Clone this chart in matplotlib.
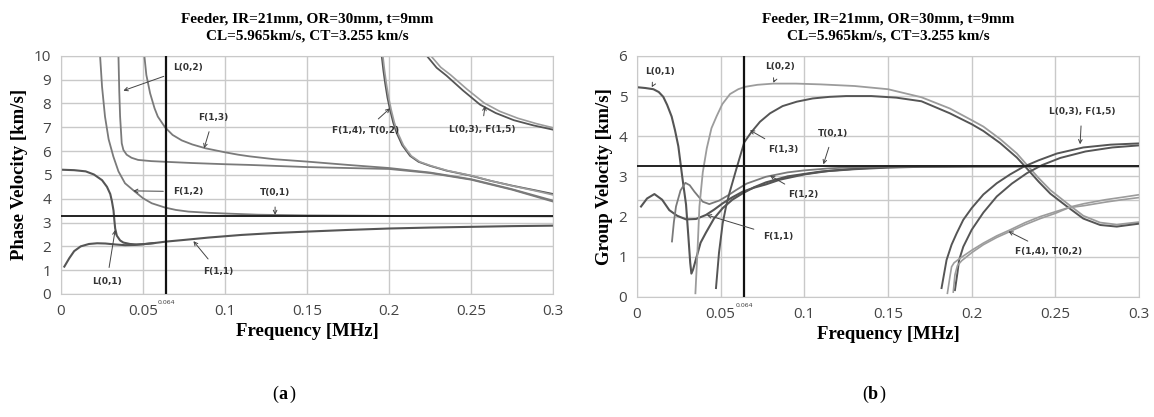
import matplotlib
matplotlib.use("Agg")
import matplotlib.pyplot as plt

# ---- common ----
CT = 3.255
f_mark = 0.064
title_txt = "Feeder, IR=21mm, OR=30mm, t=9mm\nCL=5.965km/s, CT=3.255 km/s"

# ---- (a) phase velocity ----
a_L01_x = [0.0, 0.008, 0.015, 0.02, 0.025, 0.028, 0.030, 0.031, 0.032, 0.0325, 0.033, 0.034, 0.036, 0.038, 0.042, 0.046, 0.05, 0.057]
a_L01_y = [5.22, 5.2, 5.15, 5.02, 4.78, 4.5, 4.2, 3.9, 3.5, 3.1, 2.75, 2.45, 2.25, 2.16, 2.1, 2.08, 2.09, 2.14]

a_F11_x = [0.002, 0.005, 0.008, 0.012, 0.017, 0.022, 0.027, 0.033, 0.039, 0.045, 0.05, 0.057, 0.064, 0.075, 0.09,
           0.11, 0.13, 0.15, 0.175, 0.2, 0.225, 0.25, 0.275, 0.3]
a_F11_y = [1.15, 1.5, 1.8, 2.0, 2.1, 2.13, 2.12, 2.08, 2.05, 2.06, 2.09, 2.14, 2.2, 2.27, 2.37,
           2.48, 2.56, 2.62, 2.69, 2.75, 2.79, 2.82, 2.85, 2.87]

a_F12_x = [0.0238, 0.025, 0.0268, 0.029, 0.0319, 0.035, 0.039, 0.045, 0.05, 0.0553, 0.0634, 0.07, 0.0776, 0.09,
           0.1, 0.12, 0.15, 0.2, 0.25, 0.3]
a_F12_y = [10, 8.7, 7.45, 6.5, 5.77, 5.15, 4.65, 4.3, 4.02, 3.81, 3.63, 3.53, 3.46, 3.41,
           3.38, 3.33, 3.3, 3.28, 3.27, 3.26]

a_L02_x = [0.035, 0.0355, 0.036, 0.037, 0.038, 0.040, 0.043, 0.047, 0.055, 0.064, 0.08, 0.1, 0.115, 0.15, 0.2,
           0.225, 0.25, 0.275, 0.3]
a_L02_y = [10, 8.5, 7.45, 6.33, 6.05, 5.85, 5.72, 5.63, 5.58, 5.55, 5.5, 5.45, 5.42, 5.33, 5.25,
           5.08, 4.8, 4.38, 3.88]

a_F13_x = [0.0508, 0.052, 0.0543, 0.057, 0.059, 0.0634, 0.068, 0.0736, 0.08, 0.088, 0.1, 0.108, 0.115, 0.13,
           0.15, 0.175, 0.2, 0.225, 0.25, 0.275, 0.3]
a_F13_y = [10, 9.2, 8.43, 7.8, 7.45, 7.0, 6.68, 6.45, 6.28, 6.12, 5.95, 5.85, 5.78, 5.66,
           5.56, 5.42, 5.29, 5.1, 4.82, 4.4, 3.92]

a_F14_x = [0.1955, 0.1965, 0.1976, 0.199, 0.2006, 0.2025, 0.2047, 0.208, 0.2128, 0.218, 0.225, 0.235, 0.249,
           0.262, 0.275, 0.288, 0.3]
a_F14_y = [10, 9.4, 8.85, 8.25, 7.73, 7.2, 6.75, 6.25, 5.8, 5.55, 5.38, 5.18, 4.98, 4.75, 4.55, 4.37, 4.2]
a_T02_x = [0.1962, 0.1972, 0.1983, 0.1997, 0.2013, 0.2032, 0.2054, 0.2087, 0.2135, 0.2187, 0.2257, 0.2357,
           0.2497, 0.2627, 0.2757, 0.2887, 0.3]
a_T02_y = [10, 9.4, 8.85, 8.25, 7.73, 7.2, 6.75, 6.25, 5.8, 5.55, 5.38, 5.18, 4.98, 4.74, 4.53, 4.34, 4.16]

a_L03_x = [0.223, 0.229, 0.235, 0.245, 0.2555, 0.265, 0.276, 0.288, 0.3]
a_L03_y = [10, 9.5, 9.17, 8.55, 7.95, 7.6, 7.3, 7.08, 6.9]
a_F15_x = [0.2255, 0.2315, 0.2375, 0.2475, 0.258, 0.2675, 0.2785, 0.29, 0.3]
a_F15_y = [10, 9.52, 9.2, 8.6, 8.02, 7.67, 7.38, 7.15, 6.98]

# ---- (b) group velocity ----
b_L01_x = [0.0, 0.005, 0.0098, 0.013, 0.0157, 0.018, 0.0207, 0.0227, 0.0247, 0.027, 0.0293, 0.0307, 0.0318,
           0.0325, 0.0335, 0.0353, 0.038, 0.0412, 0.046, 0.0512, 0.057, 0.0632, 0.07, 0.077, 0.09, 0.11,
           0.13, 0.15, 0.17, 0.2, 0.25, 0.3]
b_L01_y = [5.22, 5.2, 5.17, 5.1, 4.98, 4.78, 4.49, 4.15, 3.75, 3.0, 2.3, 1.5, 0.85,
           0.58, 0.68, 0.95, 1.35, 1.6, 1.95, 2.21, 2.42, 2.58, 2.73, 2.85, 3.0, 3.12,
           3.18, 3.22, 3.24, 3.25, 3.255, 3.255]

b_F11_x = [0.0024, 0.006, 0.0104, 0.015, 0.0193, 0.024, 0.0293, 0.0353, 0.0412, 0.046, 0.0512, 0.057, 0.0632,
           0.07, 0.077, 0.0855, 0.1, 0.115, 0.133, 0.15, 0.17, 0.2, 0.25, 0.3]
b_F11_y = [2.25, 2.45, 2.56, 2.42, 2.16, 2.02, 1.93, 1.94, 2.04, 2.17, 2.33, 2.48, 2.62,
           2.72, 2.8, 2.92, 3.05, 3.14, 3.2, 3.23, 3.245, 3.25, 3.255, 3.255]

b_F12_x = [0.0209, 0.022, 0.0233, 0.026, 0.0289, 0.0315, 0.0343, 0.0393, 0.0432, 0.0492, 0.0545, 0.0592,
           0.0655, 0.077, 0.0805, 0.09, 0.1, 0.115, 0.13, 0.15, 0.17, 0.2, 0.25, 0.3]
b_F12_y = [1.38, 1.85, 2.25, 2.65, 2.84, 2.78, 2.62, 2.37, 2.31, 2.40, 2.53, 2.66,
           2.82, 2.99, 3.02, 3.1, 3.15, 3.2, 3.23, 3.245, 3.25, 3.255, 3.255, 3.255]

b_L02_x = [0.0349, 0.0362, 0.0373, 0.0393, 0.0417, 0.0445, 0.0476, 0.051, 0.0556, 0.0605, 0.0646, 0.072,
           0.0815, 0.095, 0.11, 0.13, 0.15, 0.17, 0.187, 0.2, 0.207, 0.217, 0.227, 0.234, 0.24, 0.247,
           0.257, 0.2667, 0.2768, 0.2867, 0.2995]
b_L02_y = [0.09, 1.2, 2.25, 3.1, 3.7, 4.2, 4.5, 4.8, 5.05, 5.17, 5.23, 5.28,
           5.31, 5.31, 5.29, 5.25, 5.17, 4.97, 4.69, 4.4, 4.24, 3.93, 3.57, 3.24, 2.96, 2.66,
           2.33, 2.02, 1.85, 1.8, 1.86]

b_F13_x = [0.0472, 0.049, 0.0512, 0.0532, 0.0552, 0.0592, 0.0641, 0.0685, 0.0735, 0.0795, 0.087, 0.0955,
           0.105, 0.115, 0.125, 0.14, 0.155, 0.17, 0.187, 0.2, 0.207, 0.217, 0.227, 0.234, 0.24, 0.247,
           0.257, 0.2667, 0.2768, 0.2867, 0.2995]
b_F13_y = [0.22, 1.1, 1.83, 2.25, 2.58, 3.16, 3.85, 4.11, 4.36, 4.57, 4.75, 4.86,
           4.94, 4.98, 5.0, 5.0, 4.96, 4.87, 4.57, 4.3, 4.13, 3.83, 3.47, 3.15, 2.87, 2.57,
           2.25, 1.95, 1.79, 1.75, 1.82]

b_L03_x = [0.182, 0.185, 0.188, 0.191, 0.195, 0.2, 0.207, 0.215, 0.223, 0.231, 0.24, 0.251, 0.2667, 0.283, 0.2995]
b_L03_y = [0.22, 0.92, 1.3, 1.58, 1.92, 2.21, 2.55, 2.83, 3.05, 3.24, 3.4, 3.57, 3.72, 3.79, 3.82]
b_F15_x = [0.19, 0.1915, 0.1925, 0.195, 0.2, 0.207, 0.215, 0.224, 0.233, 0.242, 0.253, 0.268, 0.284, 0.2995]
b_F15_y = [0.17, 0.6, 0.92, 1.25, 1.67, 2.1, 2.5, 2.82, 3.08, 3.28, 3.46, 3.62, 3.72, 3.77]

b_F14_x = [0.1855, 0.187, 0.188, 0.1895, 0.193, 0.2, 0.207, 0.215, 0.223, 0.232, 0.241, 0.25, 0.26, 0.267,
           0.28, 0.29, 0.2995]
b_F14_y = [0.09, 0.5, 0.75, 0.85, 0.96, 1.16, 1.34, 1.52, 1.67, 1.85, 2.0, 2.12, 2.25, 2.32, 2.42, 2.48, 2.54]
b_T02_x = [0.189, 0.19, 0.1915, 0.194, 0.2, 0.207, 0.215, 0.223, 0.232, 0.241, 0.25, 0.258, 0.267, 0.28,
           0.29, 0.2995]
b_T02_y = [0.12, 0.55, 0.78, 0.9, 1.1, 1.3, 1.48, 1.63, 1.8, 1.95, 2.08, 2.22, 2.27, 2.36, 2.42, 2.47]
b_extra_line = 2.4

# annotations: (text, text x, text y, arrow tip x, arrow tip y)
a_notes = [
    ("L(0,2)", 0.0774, 9.5, 0.038, 8.54),
    ("F(1,3)", 0.0928, 7.4, 0.0872, 6.12),
    ("F(1,2)", 0.0775, 4.3, 0.044, 4.33),
    ("T(0,1)", 0.1305, 4.25, 0.1305, 3.32),
    ("F(1,1)", 0.096, 0.94, 0.0807, 2.22),
    ("L(0,1)", 0.0279, 0.52, 0.033, 2.69),
    ("F(1,4), T(0,2)", 0.1854, 6.85, 0.2006, 7.8),
    ("L(0,3), F(1,5)", 0.2565, 6.89, 0.2585, 7.9),
]
b_notes = [
    ("L(0,1)", 0.0137, 5.6, 0.0088, 5.22),
    ("L(0,2)", 0.0855, 5.73, 0.0815, 5.33),
    ("F(1,3)", 0.0875, 3.67, 0.0675, 4.15),
    ("T(0,1)", 0.1173, 4.07, 0.1114, 3.3),
    ("F(1,2)", 0.0994, 2.54, 0.0795, 3.02),
    ("F(1,1)", 0.0845, 1.5, 0.0417, 2.04),
    ("L(0,3), F(1,5)", 0.2658, 4.61, 0.2648, 3.8),
    ("F(1,4), T(0,2)", 0.2459, 1.13, 0.222, 1.63),
]

DARK = "#555555"
MID = "#7a7a7a"
LIGHT = "#9c9c9c"
GRID = "#c9c9c9"
SERIF = "Liberation Serif"


def setup(ax, ymax, ylabel):
    ax.set_xlim(0, 0.3)
    ax.set_ylim(0, ymax)
    ax.set_xticks([0, 0.05, 0.1, 0.15, 0.2, 0.25, 0.3])
    ax.set_xticklabels(["0", "0.05", "0.1", "0.15", "0.2", "0.25", "0.3"])
    ax.set_yticks(range(0, ymax + 1))
    ax.grid(True, color=GRID, lw=1.0)
    ax.set_axisbelow(True)
    for s in ax.spines.values():
        s.set_color(GRID)
    ax.tick_params(length=0, labelsize=11, labelcolor="#444444", pad=7)
    for lab in ax.get_xticklabels() + ax.get_yticklabels():
        lab.set_family("Open Sans")
    ax.set_xlabel("Frequency [MHz]", family=SERIF, fontweight="bold", fontsize=13.5, labelpad=3)
    ax.set_ylabel(ylabel, family=SERIF, fontweight="bold", fontsize=13.5, labelpad=4)
    ax.set_title(title_txt, family=SERIF, fontweight="bold", fontsize=11, linespacing=1.4, pad=12)
    ax.axvline(f_mark, color="#111111", lw=1.6, zorder=5)
    ax.axhline(CT, color="#222222", lw=1.4, zorder=5)
    ax.text(f_mark, -0.025, "0.064", transform=ax.get_xaxis_transform(), ha="center", va="top",
            fontsize=4.5, color="#444444")


def notes(ax, items):
    for txt, tx, ty, ax_, ay in items:
        ax.annotate(txt, xy=(ax_, ay), xytext=(tx, ty), ha="center", va="center",
                    fontsize=6.5, fontweight="bold", color="#333333", family="DejaVu Sans",
                    arrowprops=dict(arrowstyle="->", color="#444444", lw=0.7, shrinkA=5, shrinkB=0),
                    zorder=6)


fig = plt.figure(figsize=(11.54, 4.17), dpi=100)
ax1 = fig.add_axes([0.0529, 0.295, 0.4264, 0.571])
ax2 = fig.add_axes([0.552, 0.288, 0.435, 0.578])

setup(ax1, 10, "Phase Velocity [km/s]")
ax1.plot(a_L01_x, a_L01_y, color=DARK, lw=1.5)
ax1.plot(a_F11_x, a_F11_y, color=DARK, lw=1.5)
ax1.plot(a_F12_x, a_F12_y, color=MID, lw=1.3)
ax1.plot(a_L02_x, a_L02_y, color=MID, lw=1.3)
ax1.plot(a_F13_x, a_F13_y, color=MID, lw=1.3)
ax1.plot(a_F14_x, a_F14_y, color=DARK, lw=1.3)
ax1.plot(a_T02_x, a_T02_y, color=LIGHT, lw=1.2)
ax1.plot(a_F15_x, a_F15_y, color=LIGHT, lw=1.2)
ax1.plot(a_L03_x, a_L03_y, color=DARK, lw=1.3)
notes(ax1, a_notes)

setup(ax2, 6, "Group Velocity [km/s]")
ax2.axhline(b_extra_line, color=GRID, lw=1.0, zorder=0.5)
ax2.plot(b_L01_x, b_L01_y, color=DARK, lw=1.5)
ax2.plot(b_F11_x, b_F11_y, color=DARK, lw=1.5)
ax2.plot(b_F12_x, b_F12_y, color=MID, lw=1.3)
ax2.plot(b_L02_x, b_L02_y, color=LIGHT, lw=1.3)
ax2.plot(b_F13_x, b_F13_y, color=DARK, lw=1.4)
ax2.plot(b_L03_x, b_L03_y, color=DARK, lw=1.4)
ax2.plot(b_F15_x, b_F15_y, color=DARK, lw=1.4)
ax2.plot(b_F14_x, b_F14_y, color=LIGHT, lw=1.2)
ax2.plot(b_T02_x, b_T02_y, color=LIGHT, lw=1.2)
notes(ax2, b_notes)

fig.text(0.241, 0.055, "(", family=SERIF, fontsize=13, ha="right", va="center")
fig.text(0.241, 0.055, "a", family=SERIF, fontsize=13, fontweight="bold", ha="left", va="center")
fig.text(0.2505, 0.055, ")", family=SERIF, fontsize=13, ha="left", va="center")
fig.text(0.752, 0.055, "(", family=SERIF, fontsize=13, ha="right", va="center")
fig.text(0.752, 0.055, "b", family=SERIF, fontsize=13, fontweight="bold", ha="left", va="center")
fig.text(0.7625, 0.055, ")", family=SERIF, fontsize=13, ha="left", va="center")

fig.savefig("out.png", dpi=100)
